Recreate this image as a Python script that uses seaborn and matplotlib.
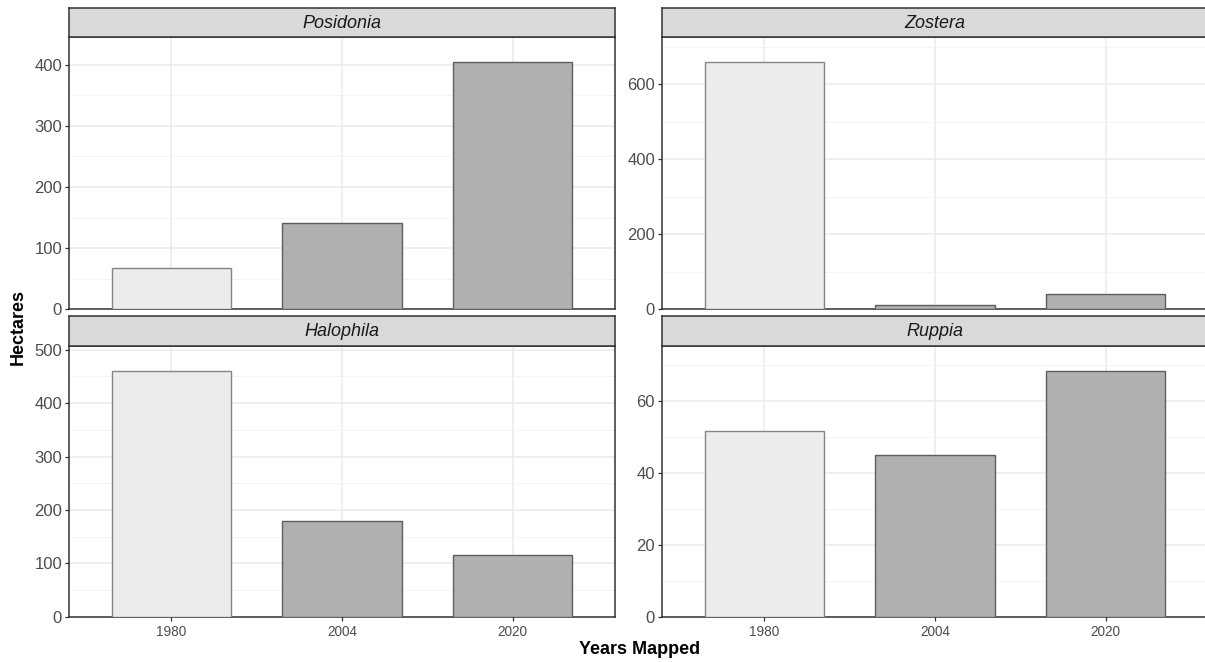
import matplotlib
matplotlib.use("Agg")
import matplotlib.pyplot as plt
from matplotlib.ticker import MultipleLocator
import seaborn as sns
import pandas as pd

# Seagrass extent per genus and mapping year
years = ["1980", "2004", "2020"]
genera = ["Posidonia", "Zostera", "Halophila", "Ruppia"]
posidonia = [67, 141, 405]
zostera = [660, 12, 41]
halophila = [461, 179, 115]
ruppia = [51.7, 44.9, 68.5]

series = {"Posidonia": posidonia, "Zostera": zostera,
          "Halophila": halophila, "Ruppia": ruppia}
df = pd.DataFrame([
    {"genus": g, "year": y, "hectares": v}
    for g in genera for y, v in zip(years, series[g])
])

sns.set_theme(style="white")
plt.rcParams["font.family"] = ["Liberation Sans", "DejaVu Sans"]

W, H = 1205, 662
fig = plt.figure(figsize=(W / 100, H / 100), dpi=100)

fills = {"1980": "#ececec", "2004": "#b0b0b0", "2020": "#b0b0b0"}
edges = {"1980": "#858585", "2004": "#5e5e5e", "2020": "#5e5e5e"}
major_step = {"Posidonia": 100, "Zostera": 200, "Halophila": 100, "Ruppia": 20}

# panel boxes in pixels: (left, top, right, bottom)
panel_px = {
    "Posidonia": (69, 37, 615, 309.3),
    "Zostera": (662, 37, 1208, 309.3),
    "Halophila": (69, 346, 615, 616.7),
    "Ruppia": (662, 346, 1208, 616.7),
}
strip_px = {
    "Posidonia": 8, "Zostera": 8, "Halophila": 316, "Ruppia": 316,
}

def fig_rect(l, t, r, b):
    return [l / W, 1 - b / H, (r - l) / W, (b - t) / H]

frame = "#333333"
for g in genera:
    l, t, r, b = panel_px[g]
    ax = fig.add_axes(fig_rect(l, t, r, b))
    sub = df[df["genus"] == g]
    sns.barplot(data=sub, x="year", y="hectares", hue="year", order=years,
                hue_order=years, palette=fills, legend=False, width=0.7,
                linewidth=1.0, ax=ax, zorder=3)
    for patch, yr in zip(ax.patches, years):
        patch.set_edgecolor(edges[yr])
        patch.set_linewidth(1.0)
    top = max(series[g]) * 1.1
    ax.set_xlim(-0.6, 2.6)
    ax.set_ylim(0, top)
    step = major_step[g]
    ax.yaxis.set_major_locator(MultipleLocator(step))
    ax.yaxis.set_minor_locator(MultipleLocator(step / 2))
    ax.set_axisbelow(True)
    ax.grid(True, which="major", axis="both", color="#ebebeb", linewidth=1.1)
    ax.grid(True, which="minor", axis="y", color="#f3f3f3", linewidth=0.6)
    for s in ax.spines.values():
        s.set_color(frame)
        s.set_linewidth(1.1)
    ax.set_xlabel("")
    ax.set_ylabel("")
    ax.tick_params(axis="y", which="major", length=3, width=0.9, color=frame,
                   labelsize=12, labelcolor="#4d4d4d", pad=2, left=True)
    ax.tick_params(axis="y", which="minor", length=0)
    if g in ("Halophila", "Ruppia"):
        ax.tick_params(axis="x", length=3, width=0.9, color=frame,
                       labelsize=9.8, labelcolor="#4d4d4d", pad=3, bottom=True)
    else:
        ax.tick_params(axis="x", length=0, labelbottom=False)

    # facet strip above the panel
    st = fig.add_axes(fig_rect(l, strip_px[g], r, t))
    st.set_facecolor("#d9d9d9")
    st.set_xticks([])
    st.set_yticks([])
    for s in st.spines.values():
        s.set_color(frame)
        s.set_linewidth(1.1)
    st.text(0.5, 0.47, g, transform=st.transAxes, ha="center", va="center",
            fontsize=13, fontstyle="italic", color="#1a1a1a")

fig.text(18 / W, 1 - 327 / H, "Hectares", rotation=90, ha="center",
         va="center", fontsize=13, fontweight="bold", color="black")
fig.text(640 / W, 1 - 649 / H, "Years Mapped", ha="center", va="center",
         fontsize=13, fontweight="bold", color="black")

fig.savefig("out.png", dpi=100, facecolor="white")
